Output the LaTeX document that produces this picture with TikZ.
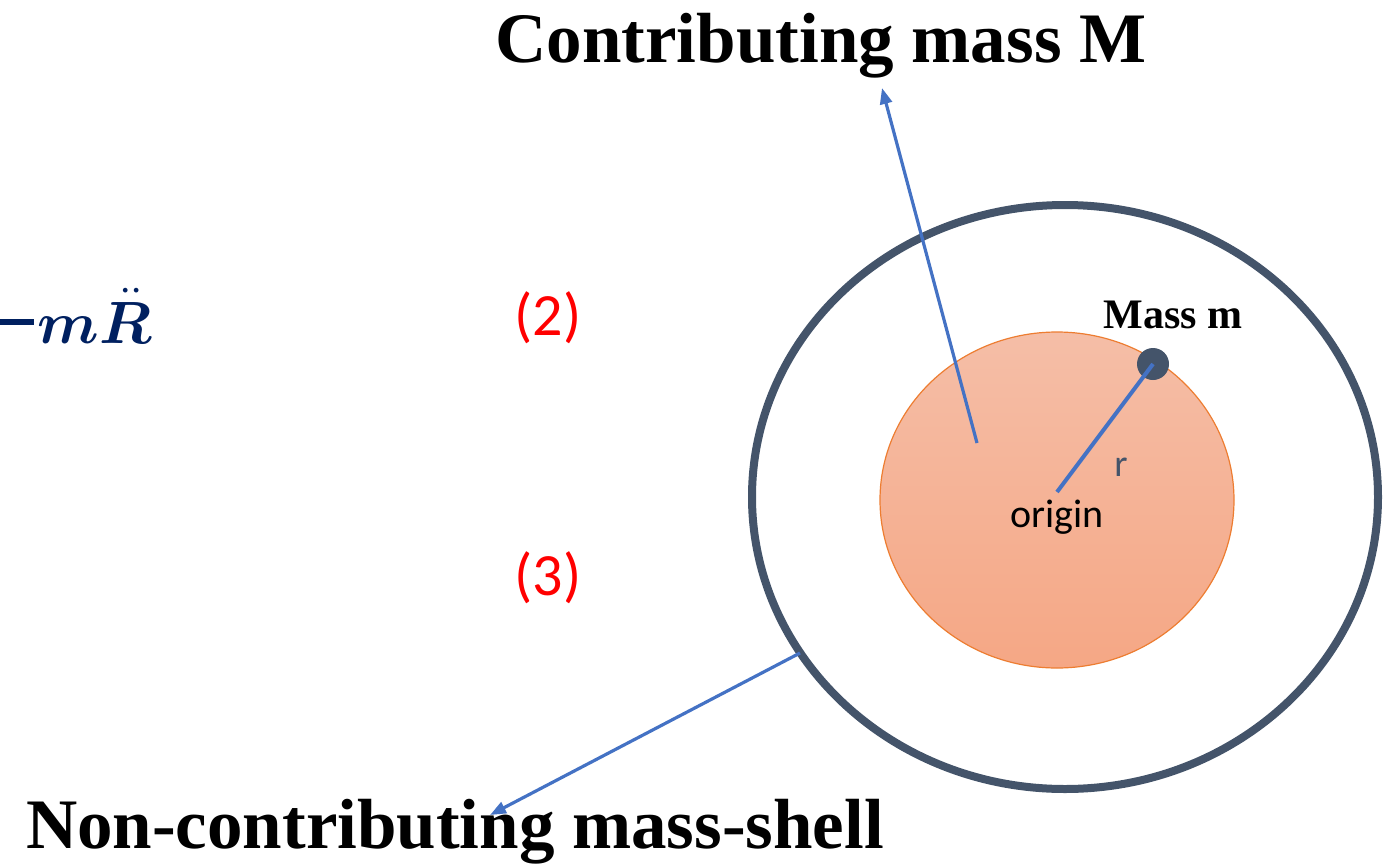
\documentclass[tikz,border=0pt]{standalone}
\usepackage{amsmath}
\usepackage{bm}
\usepackage{graphicx}
\usepackage{fontspec}
\setmainfont{Liberation Serif}
\newfontfamily\calibri{Carlito}
\usetikzlibrary{arrows.meta,positioning}
\definecolor{shellgray}{HTML}{44546A}
\definecolor{lineblue}{HTML}{4472C4}
\definecolor{coreorange}{HTML}{ED7D31}
\definecolor{coretop}{RGB}{245,190,167}
\definecolor{corebot}{RGB}{245,167,133}
\definecolor{navy}{HTML}{002060}
\tikzset{
  >={Triangle[length=16pt,width=12pt]},
  bigtitle/.style={font=\fontsize{71}{75}\selectfont\bfseries, inner sep=0pt},
  eqlabel/.style={font=\calibri\fontsize{60}{64}\selectfont, text=red, inner sep=0pt},
  pointer/.style={->, draw=lineblue, line width=3.2pt},
}

\begin{document}
\begin{tikzpicture}[x=1pt, y=-1pt]
    \useasboundingbox (0,0) rectangle (1393,865);
    % mass distribution
    \draw[shellgray, line width=8pt] (1065,497) ellipse [x radius=313, y radius=292];
    \shade[top color=coretop, bottom color=corebot, draw=coreorange, line width=1.2pt]
      (1057,500) ellipse [x radius=177, y radius=168];
    \coordinate (origin) at (1057,492);
    \node[circle, fill=shellgray, minimum size=32pt, inner sep=0pt] (mdot) at (1153,364) {};
    \draw[lineblue, line width=4pt] (origin) -- (mdot.center);
    % labels
    \node[anchor=base, inner sep=0pt, font=\fontsize{42}{46}\selectfont\bfseries] (mlabel) at (1173,328) {Mass m};
    \node[anchor=base, inner sep=0pt, font=\calibri\fontsize{40}{44}\selectfont] (olabel) at (1057,527) {origin};
    \node[anchor=base, inner sep=0pt, text=shellgray, font=\calibri\fontsize{38}{42}\selectfont] (rlabel) at (1121,476) {r};
    \node[bigtitle, anchor=base] (contrib) at (821,62) {Contributing mass M};
    \node[bigtitle, anchor=base] (noncontrib) at (455,848) {Non-contributing mass-shell};
    \node[eqlabel] (eq2) at (548,318) {(2)};
    \node[eqlabel] (eq3) at (548,578) {(3)};
    \node[anchor=base east, inner sep=0pt, text=navy] (force) at (152,343)
      {\rule[18pt]{37pt}{6pt}\kern4pt\scalebox{2.4}{\Huge$\bm{m\ddot{R}}$}};
    % pointers
    \coordinate (corept) at (977,443);
    \coordinate (contribtip) at (882,88);
    \coordinate (shellpt) at (800,653);
    \coordinate (shelltip) at (490,815);
    \draw[pointer] (corept) -- (contribtip);
    \draw[pointer] (shellpt) -- (shelltip);
\end{tikzpicture}
\end{document}
